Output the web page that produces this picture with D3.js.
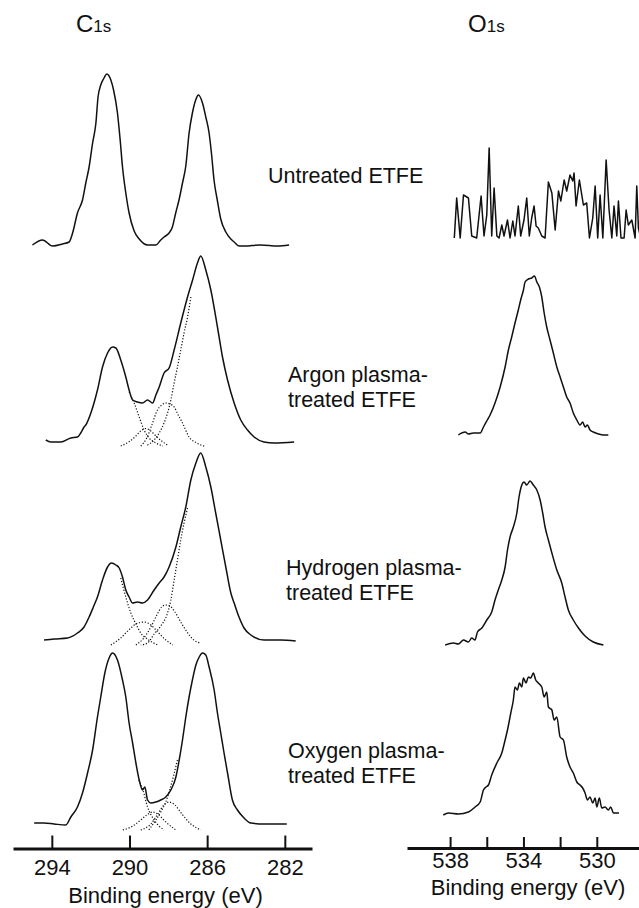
<!DOCTYPE html>
<html>
<head>
<meta charset="utf-8">
<script src="https://cdnjs.cloudflare.com/ajax/libs/d3/7.8.5/d3.min.js"></script>
<style>
  body { margin: 0; background: #fff; }
  text { font-family: "Liberation Sans", Arial, sans-serif; fill: #111; }
  .spec { fill: none; stroke: #111; stroke-width: 1.5; stroke-linejoin: round; }
  .fit { fill: none; stroke: #111; stroke-width: 1.2; stroke-dasharray: 1.2 1.8; }
  .axis .domain { stroke: #111; stroke-width: 3; }
  .axis .tick line { stroke: #111; stroke-width: 2; }
  .axis .tick text { font-size: 22px; }
</style>
</head>
<body>
<div id="viz"></div>
<script>
// C1s spectra: [binding energy (eV), intensity (a.u.)]
var c1sUntreated = [[295.0,1],[294.48,6],[293.96,0],[293.45,2],[293.11,4],[292.93,13],[292.68,33],[292.42,46],[292.25,63],[292.08,79],[291.90,103],[291.73,123],[291.62,149],[291.48,161],[291.31,168],[291.17,172],[290.96,166],[290.82,156],[290.62,133],[290.48,106],[290.36,79],[290.19,53],[290.02,33],[289.76,15],[289.50,7],[289.07,1],[288.64,1],[288.39,6],[288.22,9],[287.96,13],[287.79,19],[287.62,33],[287.45,46],[287.27,63],[287.10,80],[286.93,113],[286.76,133],[286.59,146],[286.45,151],[286.24,143],[286.07,129],[285.90,113],[285.78,93],[285.64,65],[285.47,45],[285.30,27],[285.04,14],[284.78,7],[284.61,4],[284.36,0],[284.10,0],[283.24,1],[282.38,0],[281.78,1]];
var c1sArgon = [[294.31,2],[294.05,0],[293.54,0],[293.02,4],[292.68,5],[292.51,9],[292.34,15],[292.25,17],[291.99,29],[291.65,52],[291.39,75],[291.13,89],[290.87,95],[290.70,94],[290.45,82],[290.19,65],[290.02,52],[289.84,42],[289.59,40],[289.33,39],[289.07,42],[288.81,39],[288.64,47],[288.47,55],[288.22,69],[287.96,74],[287.70,92],[287.36,119],[287.01,145],[286.75,162],[286.50,179],[286.33,186],[286.07,172],[285.81,152],[285.47,115],[285.21,85],[284.95,62],[284.61,39],[284.27,22],[283.92,12],[283.58,5],[283.07,0],[282.55,-1],[281.52,0]];
var c1sHydrogen = [[294.40,0],[293.88,1],[293.19,2],[292.68,7],[292.34,13],[292.08,23],[291.86,33],[291.65,43],[291.39,60],[291.13,73],[290.93,77],[290.70,75],[290.53,72],[290.36,63],[290.19,50],[290.02,43],[289.84,37],[289.59,38],[289.33,37],[289.07,40],[288.73,50],[288.47,57],[288.22,63],[287.96,73],[287.61,93],[287.36,113],[287.10,133],[286.84,160],[286.58,177],[286.33,187],[286.07,173],[285.81,153],[285.56,127],[285.30,100],[285.04,73],[284.78,47],[284.61,37],[284.36,23],[284.10,12],[283.75,5],[283.07,0],[282.21,0],[281.44,-1]];
var c1sOxygen = [[294.91,1],[294.40,1],[293.88,0],[293.28,-1],[293.02,7],[292.68,17],[292.42,31],[292.16,51],[291.90,74],[291.65,107],[291.48,127],[291.27,151],[291.05,166],[290.87,171],[290.62,164],[290.36,144],[290.19,127],[290.02,101],[289.84,81],[289.67,61],[289.50,44],[289.33,34],[289.21,37],[289.07,24],[288.90,21],[288.64,22],[288.39,24],[288.13,27],[287.87,34],[287.61,47],[287.44,64],[287.27,84],[287.10,107],[286.93,127],[286.76,144],[286.58,159],[286.41,167],[286.24,171],[286.07,169],[285.90,157],[285.64,134],[285.47,111],[285.30,91],[285.13,71],[284.95,51],[284.70,24],[284.44,14],[284.10,6],[283.75,1],[283.07,0],[282.38,0],[281.90,0]];

// fitted C1s components (dotted)
var argonFits = [
  [[290.02,50],[289.76,39],[289.50,25],[289.25,12],[288.99,4],[288.64,-1],[288.28,-4]],
  [[290.45,-4],[290.04,0],[289.67,6],[289.42,11],[289.16,13.5],[288.90,11],[288.59,5],[288.28,0],[287.98,-4]],
  [[289.42,-4],[289.11,4],[288.85,17],[288.56,32],[288.34,37],[288.13,39],[287.92,38],[287.70,35],[287.49,27],[287.27,19],[286.93,5],[286.53,-1],[286.07,-4.7]],
  [[286.84,145],[287.01,125],[287.19,109],[287.36,92],[287.53,75],[287.70,59],[287.87,42],[288.04,29],[288.22,19],[288.47,9],[288.73,2],[289.16,-4]]
];
var hydrogenFits = [
  [[290.45,62],[290.19,43],[289.93,27],[289.67,16],[289.42,7],[289.01,0],[288.54,-5]],
  [[290.96,-5],[290.45,2],[290.04,10],[289.67,16],[289.25,18],[288.90,15],[288.54,8],[288.13,0],[287.77,-5]],
  [[289.67,-5],[289.26,2],[288.90,13],[288.59,25],[288.34,33],[288.13,35],[287.92,34],[287.66,28],[287.36,18],[287.00,7],[286.69,0],[286.33,-3]],
  [[287.01,132],[287.19,117],[287.36,100],[287.53,80],[287.70,60],[287.87,40],[288.04,27],[288.39,14],[288.73,6],[289.07,-3],[289.42,-5]]
];
var oxygenFits = [
  [[289.52,44],[289.31,34],[289.07,17],[288.73,4],[288.22,-6]],
  [[290.34,-6],[289.83,-2],[289.42,4],[289.11,9],[288.80,12],[288.49,9],[288.13,2],[287.61,-6]],
  [[289.42,-6],[288.90,0],[288.54,10],[288.23,19],[287.96,22],[287.66,19],[287.30,10],[286.84,0],[286.33,-6]],
  [[287.53,64],[287.72,49],[287.93,34],[288.13,22],[288.39,12],[288.64,4],[289.01,-6]]
];

// O1s spectra
var o1sUntreated = [[537.77,0],[537.64,40],[537.45,0],[537.27,43],[537.00,40],[536.82,2],[536.55,0],[536.31,42],[536.15,2],[536.00,23],[535.87,90],[535.73,2],[535.60,50],[535.45,2],[535.33,0],[535.18,13],[535.06,2],[534.87,18],[534.73,0],[534.58,17],[534.46,2],[534.28,32],[534.15,2],[533.97,18],[533.82,40],[533.68,2],[533.55,20],[533.42,32],[533.31,12],[533.19,10],[533.00,2],[532.82,0],[532.64,56],[532.45,45],[532.27,8],[532.09,47],[531.96,37],[531.78,58],[531.64,47],[531.46,63],[531.31,57],[531.24,65],[531.13,32],[530.95,58],[530.73,33],[530.55,35],[530.40,0],[530.22,20],[530.09,52],[529.95,0],[529.82,43],[529.67,0],[529.49,78],[529.33,28],[529.18,0],[529.06,32],[528.91,2],[528.82,37],[528.68,0],[528.51,0],[528.40,28],[528.28,13],[528.09,18],[527.91,0],[527.82,52],[527.73,10],[527.60,0]];
var o1sArgon = [[537.55,0],[537.18,3],[537.00,1],[536.73,2],[536.36,2],[536.18,8],[535.97,15],[535.82,20],[535.55,32],[535.27,48],[535.00,68],[534.82,85],[534.64,98],[534.46,112],[534.28,125],[534.15,135],[534.00,145],[533.91,153],[533.73,156],[533.55,157],[533.40,159],[533.27,153],[533.13,148],[533.00,138],[532.87,122],[532.73,108],[532.55,95],[532.37,82],[532.18,68],[532.00,58],[531.82,48],[531.64,38],[531.46,32],[531.28,22],[531.09,15],[530.91,10],[530.77,13],[530.64,8],[530.51,10],[530.37,5],[530.19,3],[529.91,1],[529.64,0],[529.37,0]];
var o1sHydrogen = [[538.27,0],[537.82,2],[537.55,1],[537.27,5],[537.00,3],[536.82,7],[536.64,5],[536.51,13],[536.27,17],[536.00,25],[535.73,33],[535.55,45],[535.37,55],[535.18,65],[535.00,78],[534.87,95],[534.73,108],[534.55,118],[534.36,132],[534.24,148],[534.09,160],[533.97,163],[533.82,160],[533.64,164],[533.46,160],[533.27,155],[533.09,145],[532.95,132],[532.82,118],[532.64,105],[532.45,92],[532.18,75],[531.91,62],[531.73,48],[531.55,35],[531.28,25],[531.00,17],[530.64,9],[530.19,3],[529.64,0]];
var o1sOxygen = [[538.37,0],[538.09,2],[537.55,1],[537.00,3],[536.64,8],[536.36,13],[536.18,25],[536.04,28],[535.91,30],[535.73,40],[535.45,52],[535.18,62],[535.00,75],[534.87,85],[534.69,102],[534.55,115],[534.46,128],[534.33,125],[534.22,132],[534.09,128],[534.00,137],[533.86,132],[533.73,138],[533.60,137],[533.46,142],[533.33,135],[533.19,132],[533.00,128],[532.87,118],[532.73,123],[532.64,108],[532.45,105],[532.33,95],[532.18,98],[532.00,78],[531.82,75],[531.64,58],[531.46,48],[531.28,42],[531.09,33],[530.91,30],[530.77,27],[530.64,22],[530.51,15],[530.37,18],[530.22,12],[530.09,17],[530.00,8],[529.86,17],[529.73,7],[529.55,8],[529.37,5],[529.24,8],[529.09,2],[528.79,2]];

var c1sTicks = [294, 290, 286, 282];
var o1sTicks = [538, 536, 534, 532, 530];
var o1sTickLabels = [538, 534, 530];
var sampleLabels = [["Untreated ETFE"], ["Argon plasma-", "treated ETFE"], ["Hydrogen plasma-", "treated ETFE"], ["Oxygen plasma-", "treated ETFE"]];

var width = 639, height = 908;

var svg = d3.select("#viz").append("svg")
  .attr("width", width)
  .attr("height", height)
  .style("background", "#fff");

var xC = d3.scaleLinear().domain([296, 280.6]).range([13, 312]);
var xO = d3.scaleLinear().domain([540.35, 527]).range([407, 651.8]);

// baselines of the stacked spectra (px)
var c1sBase = [246, 442, 640, 824];
var o1sBase = [238, 435, 645, 815];
var labelPos = [[268, 183], [288, 382], [286, 575], [288, 758]];

function yFor(base) {
  return d3.scaleLinear().domain([0, 100]).range([base, base - 100]);
}

function drawSpec(data, x, base, cls, curve) {
  var y = yFor(base);
  svg.append("path")
    .datum(data)
    .attr("class", cls)
    .attr("d", d3.line()
      .curve(curve || d3.curveLinear)
      .x(function(d) { return x(d[0]); })
      .y(function(d) { return y(d[1]); }));
}

[c1sUntreated, c1sArgon, c1sHydrogen, c1sOxygen].forEach(function(s, i) {
  drawSpec(s, xC, c1sBase[i], "spec", d3.curveMonotoneX);
});
[null, argonFits, hydrogenFits, oxygenFits].forEach(function(f, i) {
  if (!f) return;
  f.forEach(function(c) { drawSpec(c, xC, c1sBase[i], "fit", d3.curveMonotoneX); });
});
[o1sUntreated, o1sArgon, o1sHydrogen, o1sOxygen].forEach(function(s, i) {
  drawSpec(s, xO, o1sBase[i], "spec", i ? d3.curveMonotoneX : d3.curveLinear);
});

// sample names
sampleLabels.forEach(function(lines, i) {
  var t = svg.append("text")
    .attr("x", labelPos[i][0])
    .attr("y", labelPos[i][1])
    .style("font-size", "21.5px");
  lines.forEach(function(l, j) {
    t.append("tspan").attr("x", labelPos[i][0]).attr("dy", j ? 25 : 0).text(l);
  });
});

// panel titles
[["C", 76], ["O", 468]].forEach(function(p) {
  var t = svg.append("text").attr("x", p[1]).attr("y", 32).style("font-size", "24px");
  t.append("tspan").text(p[0]);
  t.append("tspan").style("font-size", "17px").text("1s");
});

// axes
svg.append("g")
  .attr("class", "axis")
  .attr("transform", "translate(0,848.5)")
  .call(d3.axisBottom(xC).tickValues(c1sTicks).tickSizeInner(-13).tickSizeOuter(0).tickPadding(11));

svg.append("g")
  .attr("class", "axis")
  .attr("transform", "translate(0,848)")
  .call(d3.axisBottom(xO).tickValues(o1sTicks).tickSizeInner(-11).tickSizeOuter(0).tickPadding(4.5)
    .tickFormat(function(d) { return o1sTickLabels.indexOf(d) >= 0 ? d : ""; }));

svg.append("text")
  .attr("x", 165.5).attr("y", 903)
  .attr("text-anchor", "middle")
  .style("font-size", "22px")
  .text("Binding energy (eV)");

svg.append("text")
  .attr("x", 528).attr("y", 895)
  .attr("text-anchor", "middle")
  .style("font-size", "22px")
  .text("Binding energy (eV)");
</script>
</body>
</html>
